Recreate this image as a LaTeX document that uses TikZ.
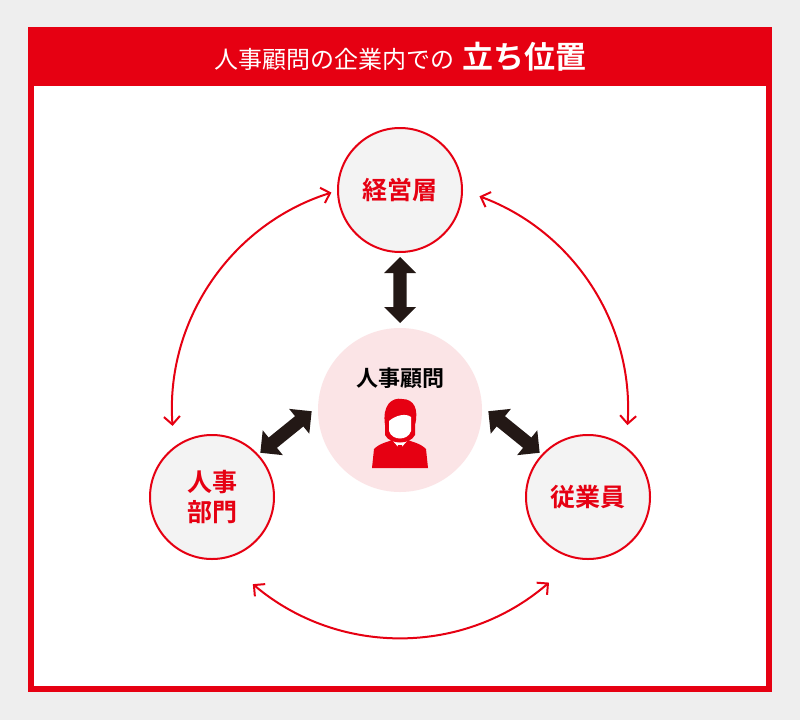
\documentclass[tikz,border=0pt]{standalone}
\usepackage{fontspec}
\setmainfont{Noto Sans CJK JP}
\newfontfamily\cjkb{Noto Sans CJK JP}[BoldFont={* Bold}]
\usetikzlibrary{calc,positioning,shapes.arrows,arrows.meta}
\definecolor{redC}{HTML}{E60012}
\definecolor{bgC}{HTML}{EEEEEE}
\definecolor{roleC}{HTML}{F3F3F3}
\definecolor{pinkC}{HTML}{FBE4E6}
\definecolor{inkC}{HTML}{231815}
\begin{document}
\begin{tikzpicture}[x=1pt,y=-1pt,
  > = {Straight Barb[length=8pt,width=16pt,line width=2pt]},
  role/.style = {circle,draw=redC,line width=2pt,fill=roleC,minimum size=124pt,inner sep=0pt,
    font=\cjkb\bfseries\fontsize{25}{30}\selectfont,text=redC,align=center},
  link/.style = {double arrow,fill=inkC,minimum height=66pt,minimum width=32pt,
    double arrow head extend=6pt,inner sep=4pt},
  loop/.style = {draw=redC,line width=2pt,<->}
  ]
	\fill[bgC] (0,0) rectangle (800,720);
	\useasboundingbox (0,0) rectangle (800,720);
	\fill[redC] (28,27) rectangle (772,692);
	\fill[white] (34,86) rectangle (766,686);
	\node[text=white,font=\fontsize{24}{28}\selectfont] (title) at (400,57)
	  {人事顧問の企業内での\hspace{8pt}{\cjkb\bfseries\fontsize{31}{35}\selectfont 立ち位置}};

	\node[circle,fill=pinkC,minimum size=164pt,inner sep=0pt] (adv) at (400,410) {};
	\node[font=\cjkb\bfseries\fontsize{22}{26}\selectfont,text=black] (advtxt) at (400,378) {人事顧問};
	\node[role] (mgmt) at (400,190) {経営層};
	\node[role] (hr)   at (212,497) {人事\\部門};
	\node[role] (emp)  at (588,497) {従業員};

	% person icon
	\begin{scope}[shift={(400,435)}]
	  \fill[redC] (-28,33) -- (-26,14) .. controls (-20,8) and (-12,7) .. (-8,5) -- (8,5)
	    .. controls (12,7) and (20,8) .. (26,14) -- (28,33) -- cycle;
	  \fill[white] (-8,5) -- (0,14) -- (8,5) -- cycle;
	  \fill[redC] (-2,10) -- (2,10) -- (3,30) -- (0,33) -- (-3,30) -- cycle;
	  \fill[redC] (-15,-10) .. controls (-18,-30) and (-8,-38) .. (2,-36)
	    .. controls (14,-36) and (19,-26) .. (15,-10) -- (15,0) .. controls (10,10) and (-10,10) .. (-15,0) -- cycle;
	  \fill[white] (-11,-14) .. controls (-4,-20) and (6,-22) .. (11,-18) -- (11,-4)
	    .. controls (8,6) and (-8,6) .. (-11,-4) -- cycle;
	\end{scope}

	\node[link,rotate=90] (l1) at (400,290) {};
	\node[link,rotate=39] (l2) at (286,432) {};
	\node[link,rotate=-39] (l3) at (514,432) {};

	\coordinate (a1) at ($(adv)+(-184:228)$);
	\coordinate (a2) at ($(adv)+(3.8:228)$);
	\coordinate (a3) at ($(adv)+(-229.8:228)$);
	\draw[loop] (a1) arc[start angle=-184,end angle=-107.5,radius=228];
	\draw[loop] (a2) arc[start angle=3.8,end angle=-69.6,radius=228];
	\draw[loop] (a3) arc[start angle=-229.8,end angle=-310.8,radius=228];
\end{tikzpicture}
\end{document}
